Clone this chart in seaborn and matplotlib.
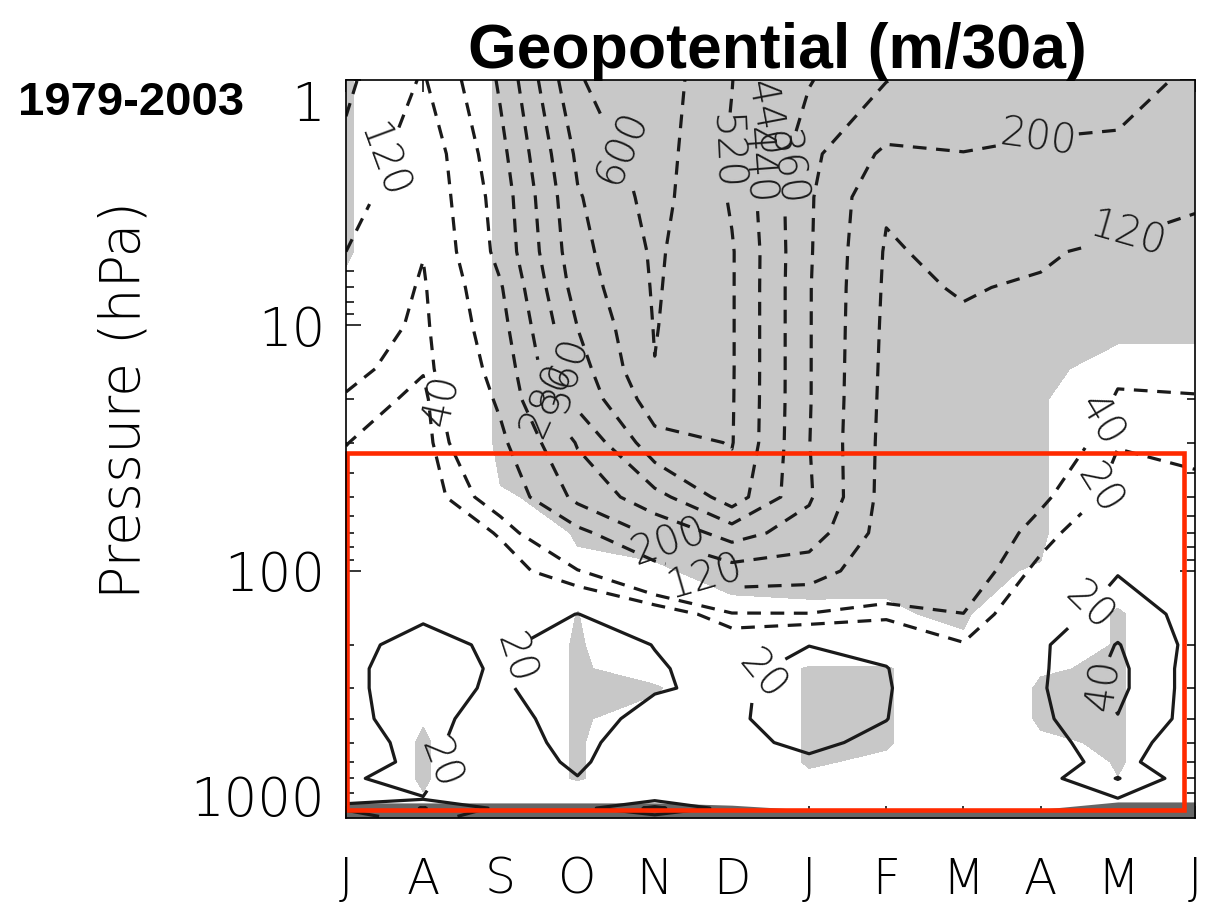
import numpy as np
import matplotlib
matplotlib.use("Agg")
import matplotlib.pyplot as plt
import seaborn as sns
from matplotlib.patches import Rectangle
from matplotlib.ticker import LogLocator, NullFormatter

# ---------------- data ----------------
months = ['J', 'A', 'S', 'O', 'N', 'D', 'J', 'F', 'M', 'A', 'M', 'J']
pressure = [1, 2, 3, 5, 7, 10, 15, 20, 30, 50, 70, 100, 150, 200, 250, 300,
            400, 500, 600, 700, 850, 925, 1000]

# geopotential trend (m/30a), one column per month, 1 hPa -> 1000 hPa
trend_jul = [-215, -178, -153, -120, -99, -77, -51, -36, -20.5, -10, -5, 0, 8, 16, 17, 17, 16, 12, 11, 19, 19, 21, 17]
trend_aug = [-112, -62, -56, -42, -33, -28, -22, -12, -8, -4, 0, 6, 18, 25, 27, 27, 27, 26, 25, 23, 19.5, 41, 24]
trend_sep = [-290, -255, -234, -223, -192, -172, -149, -131, -103, -58, -22, -8, 5, 17, 18, 17, 10, 5, 3, 3, 10, 16, 15]
trend_oct = [-595, -535, -512, -494, -476, -442, -405, -379, -286, -220, -96, -38, 20.5, 30, 32, 33, 32, 30, 25, 19, 12, 12, 14]
trend_nov = [-650, -640, -630, -612, -608, -604, -598, -561, -489, -328, -215, -80, 0, 19.5, 22, 22, 10.6, -3, -4, 2, 15, 45, 14]
trend_dec = [-522, -508, -512, -527, -527, -527, -527, -526, -524, -481, -312, -162, -36, 2, 12, 15, 16, 14, 10, 8, 10, 10, 12]
trend_jan = [-365, -300, -290, -288, -285, -285, -285, -285, -282, -290, -241, -151, -37, 19.5, 30, 33, 33, 25, 16, 10, 10, 15, 12]
trend_feb = [-282, -183, -128, -112, -108, -104, -100, -97, -93, -88, -84, -75, -26, 12, 21, 22, 20.5, 14, 10, 8, 8, 10, 8]
trend_mar = [-250, -198, -175, -140, -124, -112, -100, -93, -85, -75, -68, -60, -39.5, -18, -8, -3, 0, 2, 3, 3, 5, 6, 5]
trend_apr = [-225, -190, -170, -128, -113, -100, -88, -80, -70, -45, -29, -12, 9, 17, 17, 17.8, 16, 12, 11, 12, 8, 8, 6]
trend_may = [-215, -190, -155, -105, -82, -62, -45, -37, -21, -10, 5, 19, 30, 41, 45, 45, 39, 32, 27, 41, 19, 14, 10]
trend_jun = [-193, -165, -125, -105, -92, -75, -52, -37, -26, -12, -5, 2, 14, 14, 11, 11, 12, 5, 3, 6.6, 5, 5, 5]

# significance (>= 0.9 shaded)
sig_jul = [1, 1, 1, 1, 0.73, 0, 0, 0, 0, 0, 0, 0, 0, 0, 0, 0, 0, 0, 0, 0, 0, 0, 0]
sig_aug = [0, 0, 0, 0, 0, 0, 0, 0, 0, 0, 0, 0, 0, 0, 0, 0, 0.85, 1, 1, 1, 0.84, 0, 0]
sig_sep = [1, 1, 1, 1, 1, 1, 1, 1, 1, 0.865, 0, 0, 0, 0, 0, 0, 0, 0, 0, 0, 0, 0, 0]
sig_oct = [1, 1, 1, 1, 1, 1, 1, 1, 1, 1, 1, 0.68, 0.92, 1, 1, 1, 1, 1, 1, 1, 0, 0, 0]
sig_nov = [1, 1, 1, 1, 1, 1, 1, 1, 1, 1, 1, 0.86, 0, 0, 0.5, 1, 0.5, 0, 0, 0, 0, 0, 0]
sig_dec = [1, 1, 1, 1, 1, 1, 1, 1, 1, 1, 1, 1, 0.8, 0, 0, 0, 0, 0, 0, 0, 0, 0, 0]
sig_jan = [1, 1, 1, 1, 1, 1, 1, 1, 1, 1, 1, 1, 0.835, 0, 1, 1, 1, 1, 1, 0.73, 0, 0, 0]
sig_feb = [1, 1, 1, 1, 1, 1, 1, 1, 1, 1, 1, 1, 0.83, 0, 1, 1, 1, 1, 0.73, 0, 0, 0, 0]
sig_mar = [1, 1, 1, 1, 1, 1, 1, 1, 1, 1, 1, 1, 1, 0.78, 0, 0, 0, 0, 0, 0, 0, 0, 0]
sig_apr = [1, 1, 1, 1, 1, 1, 1, 1, 1, 1, 1, 0.86, 0, 0, 0.83, 1, 1, 0.78, 0, 0, 0, 0, 0]
sig_may = [1, 1, 1, 1, 1, 1, 0.736, 0, 0, 0, 0, 0.39, 1, 1, 1, 1, 1, 1, 1, 0.88, 0, 0, 0]
sig_jun = [1, 1, 1, 1, 1, 1, 0.736, 0, 0, 0, 0, 0, 0, 0, 0, 0, 0, 0, 0, 0, 0, 0, 0]

# surface pressure (hPa) per month (below-ground band)
surface_p = [881, 881, 881, 881, 881, 900, 941, 941, 941, 935, 873, 873]

neg_levels = [-600, -520, -440, -360, -280, -200, -120, -40, -20]
pos_levels = [20, 40]

# ---------------- style ----------------
sns.set_theme(style="ticks", rc={
    "axes.edgecolor": "black", "text.color": "black", "axes.labelcolor": "black",
    "xtick.color": "black", "ytick.color": "black", "axes.linewidth": 1.2,
})
plt.rcParams["font.family"] = ["DejaVu Sans"]
plt.rcParams["font.weight"] = "light"

fig = plt.figure(figsize=(12.06, 9.02), dpi=100)
ax = fig.add_axes([346 / 1206, 1 - 818 / 902, (1195 - 346) / 1206, (818 - 80) / 902])

x = np.arange(len(months))
Z = np.array([trend_jul, trend_aug, trend_sep, trend_oct, trend_nov, trend_dec,
              trend_jan, trend_feb, trend_mar, trend_apr, trend_may, trend_jun]).T
S = np.array([sig_jul, sig_aug, sig_sep, sig_oct, sig_nov, sig_dec,
              sig_jan, sig_feb, sig_mar, sig_apr, sig_may, sig_jun]).T

ax.set_yscale("log")
ax.contourf(x, pressure, S, levels=[0.9, 2.0], colors=["#c8c8c8"], zorder=1)
ax.fill_between(x, surface_p, 1015, color="#666666", lw=0, zorder=1.5)

cn = ax.contour(x, pressure, Z, levels=neg_levels, colors="k", linewidths=2.3,
                linestyles=[(0, (4.3, 3.0))], zorder=2)
cp = ax.contour(x, pressure, Z, levels=pos_levels, colors="k", linewidths=2.3,
                linestyles="solid", zorder=2)

neg_label_pos = [(0.42, 2.12), (3.75, 1.76), (4.69, 1.93), (5.18, 2.22), (5.5, 1.45),
                 (5.85, 2.3), (8.95, 1.64), (10.12, 4.16), (1.29, 20.1), (2.78, 15.9),
                 (2.62, 20.1), (4.18, 76.2), (4.66, 103.8), (9.53, 22.0), (9.66, 44.6)]
pos_label_pos = [(1.42, 647), (2.0, 219), (5.18, 237), (9.6, 137), (9.69, 291)]
fmt = lambda v: f"{abs(v):.0f}"
ax.clabel(cn, fmt=fmt, fontsize=29, inline=True, inline_spacing=3, manual=neg_label_pos,
          colors="k")
ax.clabel(cp, fmt=fmt, fontsize=29, inline=True, inline_spacing=3, manual=pos_label_pos,
          colors="k")

# red box
ax.add_patch(Rectangle((0.013, 33.0), 10.857 - 0.013, 941 - 33.0, fill=False,
                       edgecolor="#ff2a00", lw=3.3, zorder=5, clip_on=False))

ax.set_xlim(0, 11)
ax.set_ylim(1015, 1)
ax.set_xticks(x, labels=months)
ax.set_yticks([1, 10, 100, 1000], labels=["1", "10", "100", "1000"])
ax.yaxis.set_minor_locator(LogLocator(base=10, subs=range(2, 10)))
ax.yaxis.set_minor_formatter(NullFormatter())
ax.tick_params(axis="both", which="both", direction="in", top=True, right=True)
ax.tick_params(axis="x", which="major", length=8.6, width=1.1, pad=27, labelsize=35)
ax.tick_params(axis="y", which="major", length=11, width=1.1, pad=15, labelsize=38)
ax.tick_params(axis="y", which="minor", length=6, width=1.1)
yt = ax.yaxis.get_major_ticks()
yt[0].label1.set_va("top")
yt[3].label1.set_va("baseline")
for s in ax.spines.values():
    s.set_linewidth(1.2)
    s.set_zorder(6)

fig.text(125 / 1206, 1 - 400 / 902, "Pressure (hPa)", rotation=90, ha="center",
         va="center", fontsize=40)
fig.text(777 / 1206, 1 - 68 / 902, "Geopotential (m/30a)", ha="center", va="baseline",
         fontsize=45, fontweight="bold", family=["Liberation Sans", "DejaVu Sans"])
fig.text(18 / 1206, 1 - 115 / 902, "1979-2003", ha="left", va="baseline",
         fontsize=34, fontweight="bold", family=["Liberation Sans", "DejaVu Sans"])

fig.savefig("out.png", dpi=100)
